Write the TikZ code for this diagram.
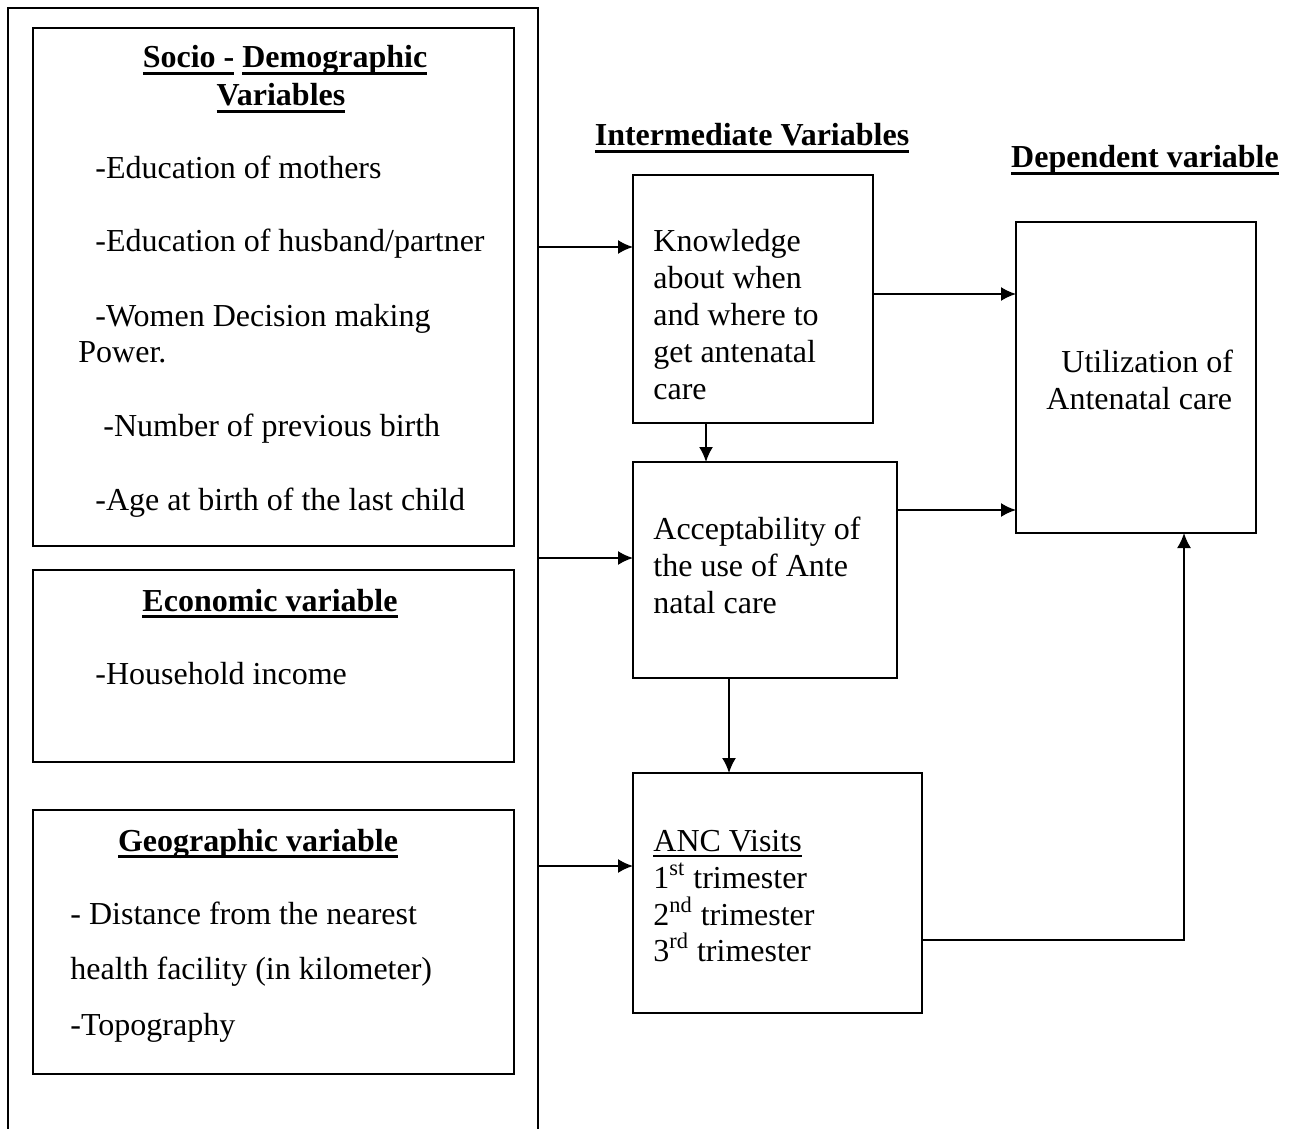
\documentclass[tikz,border=0pt]{standalone}
\usepackage{fontspec}
\setmainfont{Liberation Serif}
\usetikzlibrary{arrows.meta,calc}
\newcommand\myul[2][1.1pt]{\setbox0\hbox{#2}\rlap{\vrule width\wd0 height -2.2pt depth \dimexpr2.2pt+#1\relax}\box0\relax}
\tikzset{
  box/.style={draw, line width=0.9pt, inner sep=0pt, outer sep=0pt},
  txt/.style={inner sep=0pt, anchor=base west, font=\fontsize{16}{18.4}\selectfont},
  head/.style={inner sep=0pt, anchor=base, font=\fontsize{16}{18.4}\selectfont\bfseries},
  arr/.style={line width=0.9pt, -{Latex[length=7.5pt,width=7pt]}},
  ln/.style={line width=0.9pt}
}
\begin{document}
\begin{tikzpicture}[x=0.5pt,y=-0.5pt]
\clip (0,0) rectangle (1293,1128);
\fill[white] (0,0) rectangle (1293,1128);
% outer frame (runs off the bottom)
\node[box, minimum width=265pt, minimum height=570pt] (outer) at (273,578) {};
% left boxes
\node[box, minimum width=240.5pt, minimum height=259pt] (socio) at (273.5,287) {};
\node[box, minimum width=240.5pt, minimum height=96pt] (econ) at (273.5,666) {};
\node[box, minimum width=240.5pt, minimum height=132pt] (geo) at (273.5,942) {};
% intermediate boxes
\node[box, minimum width=120pt, minimum height=124pt] (know) at (753,299) {};
\node[box, minimum width=132pt, minimum height=108pt] (accept) at (765,570) {};
\node[box, minimum width=144.5pt, minimum height=120pt] (anc) at (777.5,893) {};
% dependent box
\node[box, minimum width=120pt, minimum height=155.5pt] (util) at (1136,377.5) {};

% socio texts
\node[head] (sh1) at (285,68) {\myul{Socio -} \myul{Demographic}};
\node[head] (sh2) at (281,106) {\myul{Variables}};
\node[txt] (s1) at (95,179) {-Education of mothers};
\node[txt] (s2) at (95,252) {-Education of husband/partner};
\node[txt] (s3) at (95,326) {-Women Decision making};
\node[txt] (s4) at (78,362.5) {Power.};
\node[txt] (s5) at (103,436) {-Number of previous birth};
\node[txt] (s6) at (95,510) {-Age at birth of the last child};
% economic
\node[head] (eh) at (270,611) {\myul{Economic variable}};
\node[txt] (e1) at (95,684) {-Household income};
% geographic
\node[head] (gh) at (258,851) {\myul{Geographic variable}};
\node[txt] (g1) at (70,924) {- Distance from the nearest};
\node[txt] (g2) at (70,979) {health facility (in kilometer)};
\node[txt] (g3) at (70,1035) {-Topography};
% column headings
\node[head] (ih) at (752,146) {\myul{Intermediate Variables}};
\node[head] (dh) at (1145,168) {\myul{Dependent variable}};
% knowledge
\node[txt] (k1) at (653,252) {Knowledge};
\node[txt] (k2) at (653,288.7) {about when};
\node[txt] (k3) at (653,325.4) {and where to};
\node[txt] (k4) at (653,362) {get antenatal};
\node[txt] (k5) at (653,399) {care};
% utilization
\node[txt] (u1) at (1061,372) {Utilization of};
\node[txt] (u2) at (1046,409) {Antenatal care};
% acceptability
\node[txt] (a1) at (653,539) {Acceptability of};
\node[txt] (a2) at (653,576) {the use of Ante};
\node[txt] (a3) at (653,613) {natal care};
% ANC
\node[txt] (n1) at (653,851) {\myul[0.6pt]{ANC Visits}};
\node[txt] (n2) at (653,888) {1\textsuperscript{st} trimester};
\node[txt] (n3) at (653,925) {2\textsuperscript{nd} trimester};
\node[txt] (n4) at (653,961) {3\textsuperscript{rd} trimester};

% connectors
\draw[arr] (outer.east |- 0,247) -- (know.west |- 0,247);
\draw[arr] (outer.east |- 0,558) -- (accept.west |- 0,558);
\draw[arr] (outer.east |- 0,866) -- (anc.west |- 0,866);
\draw[arr] (know.south -| 706,0) -- (accept.north -| 706,0);
\draw[arr] (accept.south -| 729,0) -- (anc.north -| 729,0);
\draw[arr] (know.east |- 0,294) -- (util.west |- 0,294);
\draw[arr] (accept.east |- 0,510) -- (util.west |- 0,510);
\draw[arr] (anc.east |- 0,940) -| (util.south -| 1184,0);
\end{tikzpicture}
\end{document}
